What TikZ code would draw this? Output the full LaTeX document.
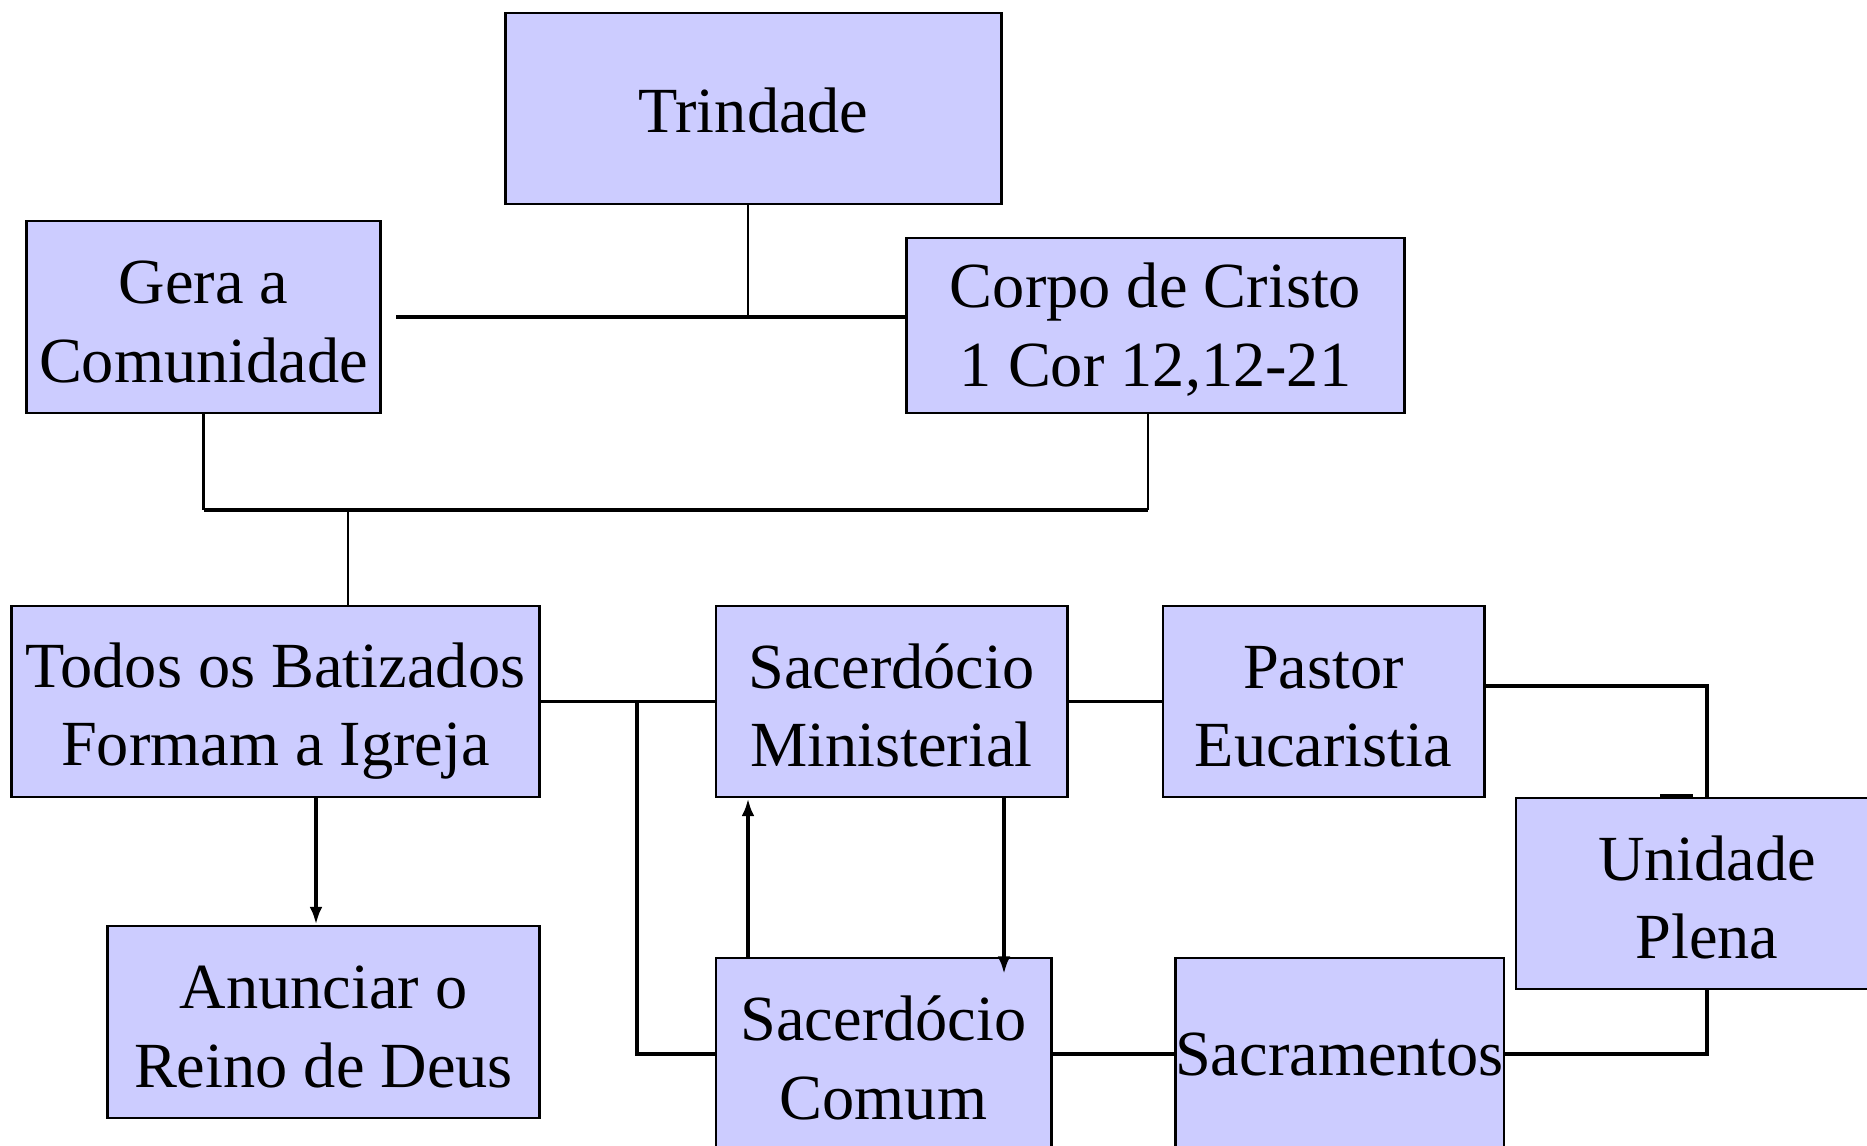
\documentclass[tikz,border=0pt]{standalone}
\usepackage{fontspec}
\setmainfont{Liberation Serif}
\usetikzlibrary{arrows.meta}
\definecolor{boxfill}{HTML}{CCCCFF}
\tikzset{
  conceptbox/.style={draw, line width=0.8pt, fill=boxfill, inner sep=0pt, align=center,
    font=\fontsize{18.3pt}{22.3pt}\selectfont},
  twoline/.style={conceptbox, text height=37.3pt},
  link/.style={line width=1pt},
  thinlink/.style={line width=0.6pt},
  >={Latex[length=5pt,width=3.6pt]}
}
\begin{document}
\begin{tikzpicture}[x=0.01cm, y=-0.01cm]
            \useasboundingbox (0,0) rectangle (1867,1145);
            \node[conceptbox, text height=14pt, minimum width=4.95cm, minimum height=1.91cm] (trin) at (753.5,108.5) {Trindade};
            \node[twoline, minimum width=3.53cm, minimum height=1.92cm] (gera) at (203.5,317) {Gera a\\Comunidade};
            \node[twoline, minimum width=4.97cm, minimum height=1.75cm] (corpo) at (1155.5,325.5) {Corpo de Cristo\\1 Cor 12,12-21};
            \node[twoline, text height=40.5pt, minimum width=5.27cm, minimum height=1.91cm] (todos) at (275.5,701.5) {Todos os Batizados\\Formam a Igreja};
            \node[twoline, minimum width=3.51cm, minimum height=1.91cm] (smin) at (891.5,701.5) {Sacerd\'ocio\\Ministerial};
            \node[twoline, minimum width=3.21cm, minimum height=1.91cm] (pastor) at (1323.5,701.5) {Pastor\\Eucaristia};
            \node[twoline, minimum width=3.82cm, minimum height=1.91cm] (unid) at (1707,893.5) {Unidade\\Plena};
            \node[twoline, minimum width=4.31cm, minimum height=1.92cm] (anun) at (323.5,1022) {Anunciar o\\Reino de Deus};
            \node[twoline, minimum width=3.35cm, minimum height=1.92cm] (scom) at (883.5,1054) {Sacerd\'ocio\\Comum};
            \node[conceptbox, minimum width=3.19cm, minimum height=1.92cm] (sacr) at (1339.5,1054) {Sacramentos};
            \coordinate (gapL) at (396,317);
            \coordinate (tr) at (748,317);
            \coordinate (jn) at (348,510);
            \coordinate (jr) at (1148,510);
            \coordinate (br) at (637,701.5);
            \coordinate (pe) at (1484,686);
            \coordinate (up) at (748,958);
            \coordinate (dn) at (1004,974);
            \coordinate (an) at (316,797);
            \draw[thinlink] (tr |- trin.south) -- (tr);
            \draw[link] (gapL) -- (corpo.west |- gapL);
            \draw[thinlink] (gera.south) -- (gera.south |- jn);
            \draw[thinlink] (jr |- corpo.south) -- (jr);
            \draw[link] (gera.south |- jn) -- (jr);
            \draw[thinlink] (jn) -- (jn |- todos.north);
            \draw[link] (todos.east) -- (smin.west);
            \draw[link] (br) |- (scom.west);
            \draw[link] (smin.east) -- (pastor.west);
            \draw[link] (pe) -| (unid.north);
            \draw[link] (1660,796) -- (1693,796);
            \draw[link] (unid.south) |- (sacr.east);
            \draw[link] (scom.east) -- (sacr.west);
            \draw[link,->] (up) -- (up |- smin.south);
            \draw[link,->] (dn |- smin.south) -- (dn);
            \draw[link,->] (an) -- (an |- anun.north);
        \end{tikzpicture}
\end{document}
